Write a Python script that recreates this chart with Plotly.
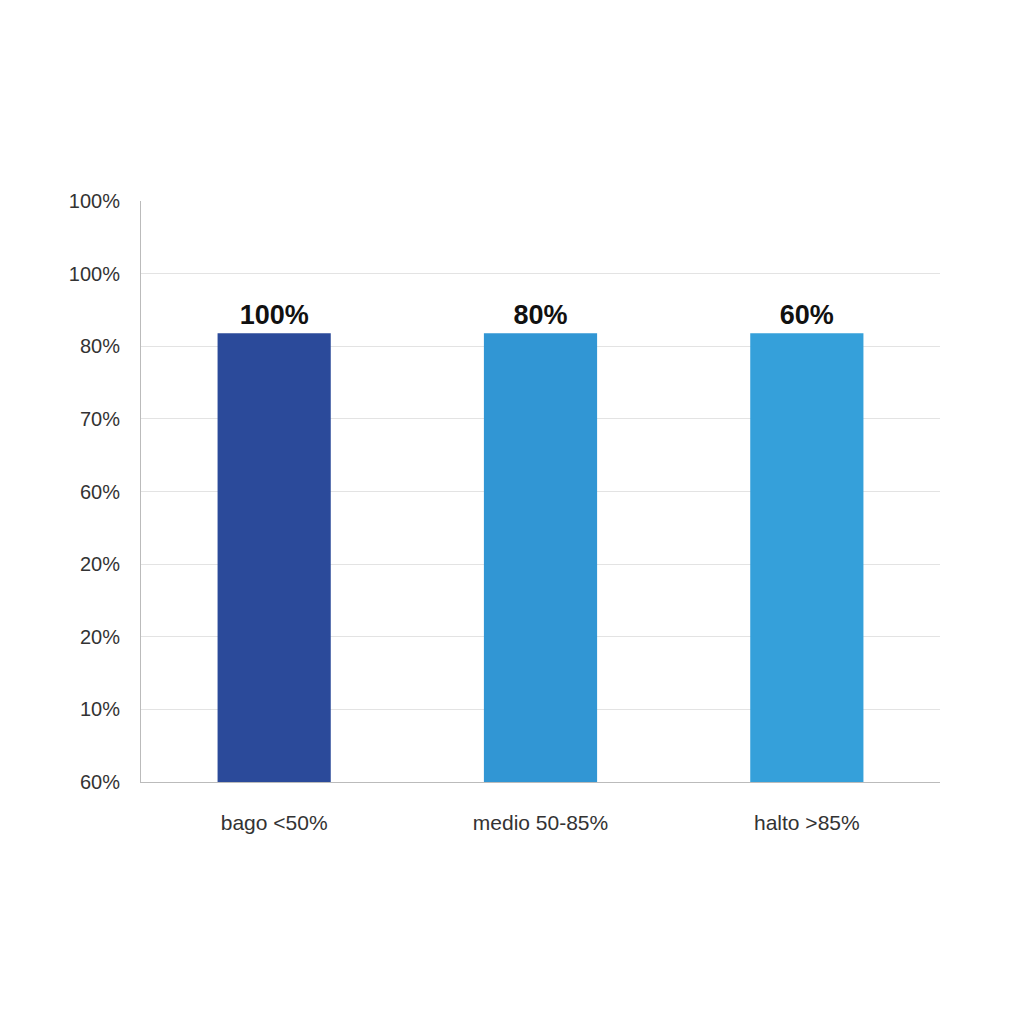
import plotly.graph_objects as go

categories = ["bago <50%", "medio 50-85%", "halto >85%"]
bar_values = [6.18, 6.18, 6.18]
bar_labels = ["100%", "80%", "60%"]
bar_colors = ["#2b4a9a", "#3196d4", "#35a0da"]
tick_vals = [0, 1, 2, 3, 4, 5, 6, 7, 8]
tick_text = ["60%", "10%", "20%", "20%", "60%", "70%", "80%", "100%", "100%"]

fig = go.Figure(go.Bar(
    x=categories, y=bar_values, marker_color=bar_colors, marker_line_width=0,
    text=bar_labels, textposition="outside",
    textfont=dict(size=27, color="#111", family="Liberation Sans"),
    texttemplate="<b>%{text}</b>", cliponaxis=False,
))
fig.update_layout(
    width=1024, height=1024, paper_bgcolor="white", plot_bgcolor="white",
    margin=dict(l=133, r=92, t=193, b=250), bargap=0.575, showlegend=False,
    font=dict(family="Liberation Sans", color="#333"),
)
fig.update_yaxes(range=[0, 8], tickvals=tick_vals, ticktext=tick_text,
                 gridcolor="#e3e3e3", showline=True, linecolor="#bbb",
                 tickfont=dict(size=20, color="#333"), ticks="", ticklabelstandoff=16,
                 zeroline=False)
fig.update_xaxes(showline=True, linecolor="#bbb", tickfont=dict(size=21, color="#333"),
                 ticklabelstandoff=22)
fig.write_html("out.html")
